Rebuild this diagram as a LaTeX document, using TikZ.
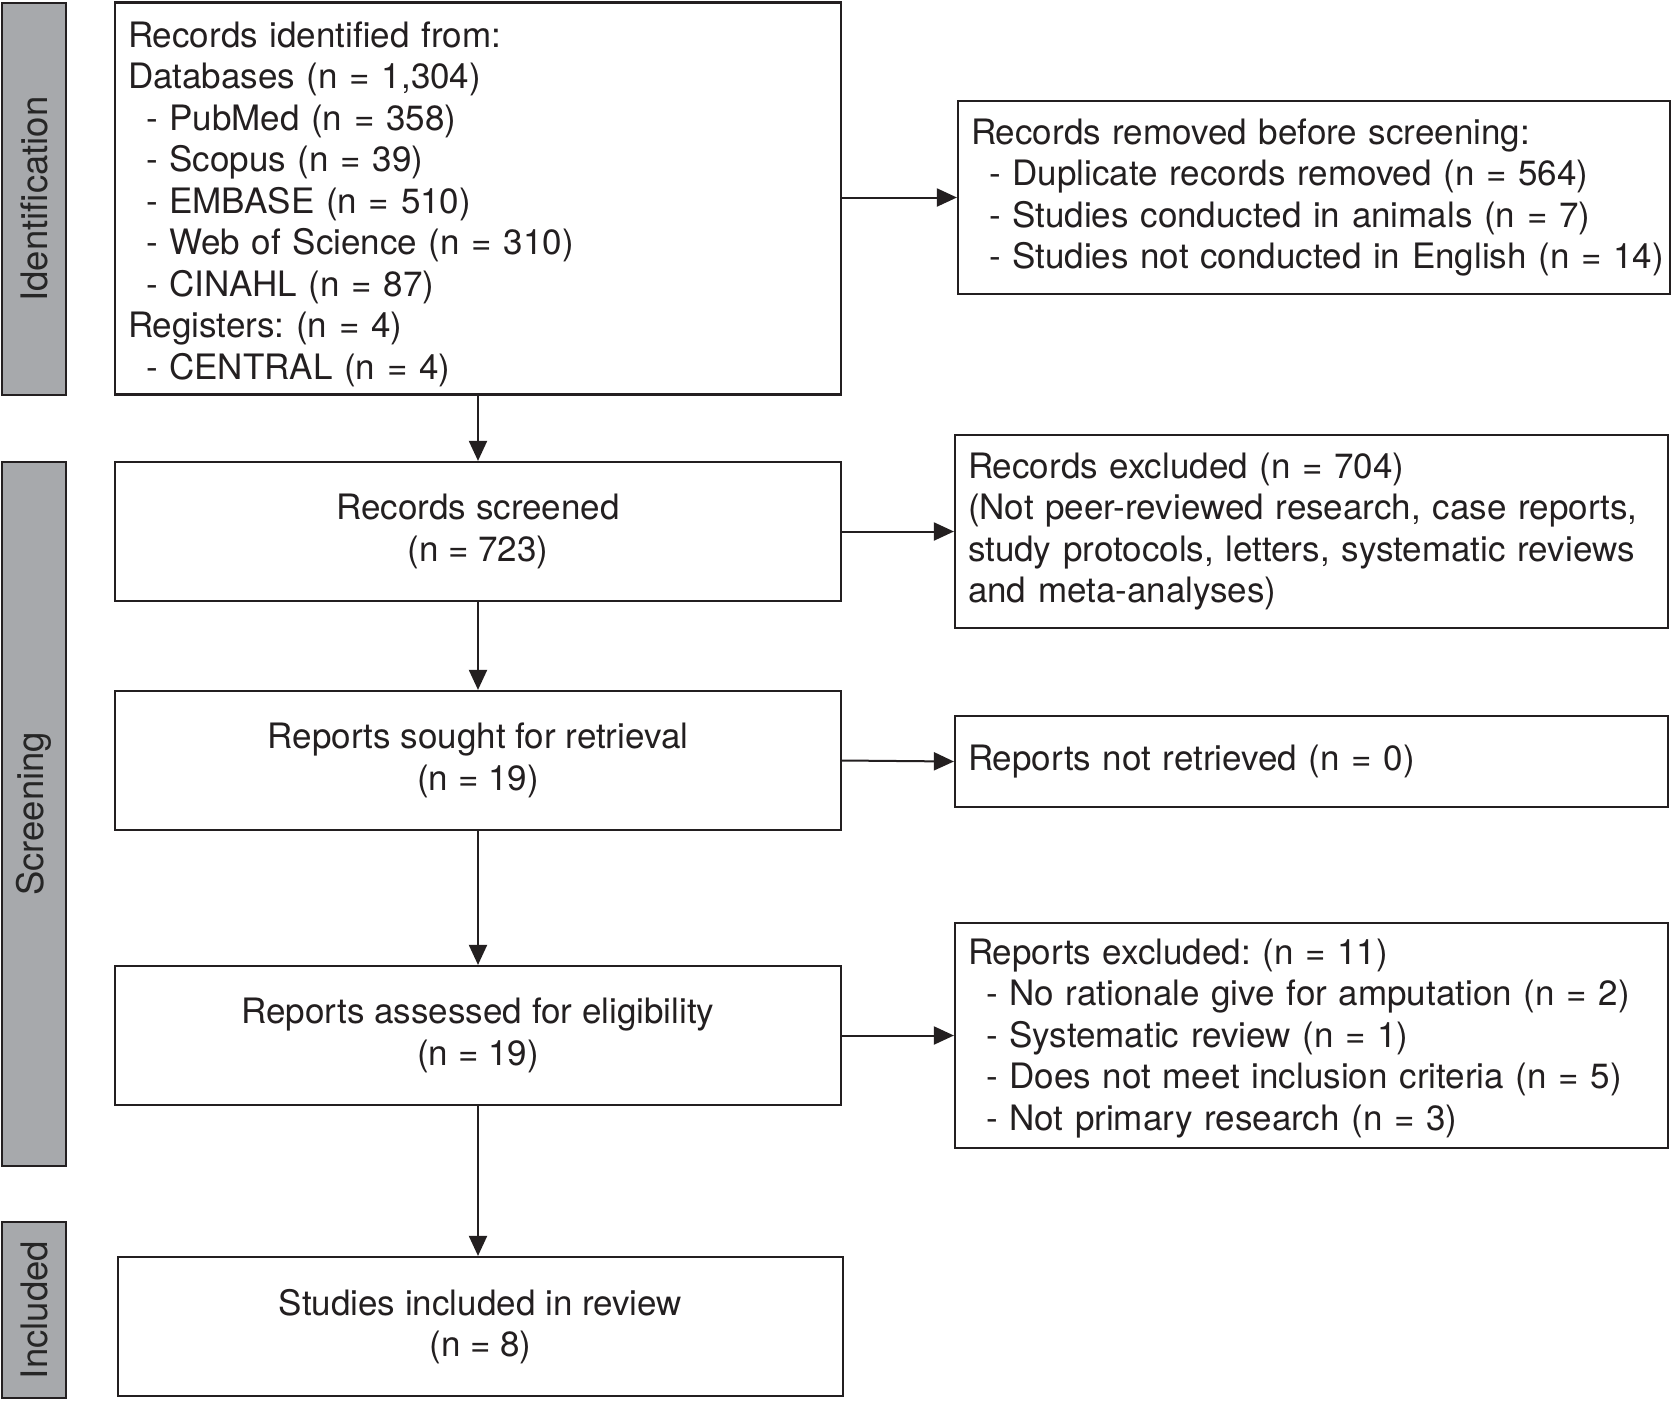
\documentclass[tikz,border=0pt]{standalone}
\usepackage{fontspec}
\setmainfont{TeX Gyre Heros}
\usetikzlibrary{arrows.meta}
\definecolor{ink}{HTML}{231F20}
\definecolor{barfill}{HTML}{A7A9AC}
\frenchspacing
\newcommand\boxfont{\fontsize{35}{41.5}\selectfont}
\begin{document}
\begin{tikzpicture}[x=1pt,y=-1pt,
  every node/.style={font=\boxfont, text=ink},
  box/.style={draw=ink, line width=2.2pt, fill=white, inner xsep=13pt, inner ysep=0pt},
  lbox/.style={box, align=left, text width=#1},
  cbox/.style={box, align=center},
  sidebar/.style={draw=ink, line width=2.2pt, fill=barfill, inner sep=0pt, minimum width=64pt},
  sidetext/.style={rotate=90, text=black!85, font=\fontsize{36.5}{40}\selectfont},
  conn/.style={draw=ink, line width=2pt, -{Triangle[length=20pt,width=18pt]}}
]
\useasboundingbox (0,0) rectangle (1673,1401);
\fill[white] (0,0) rectangle (1673,1401);

% side bars
\node[sidebar, minimum height=392pt] (sid) at (34,199) {};
\node[sidetext] at (sid.center) {Identification};
\node[sidebar, minimum height=704pt] (ssc) at (34,814) {};
\node[sidetext] at (ssc.center) {Screening};
\node[sidebar, minimum height=176pt] (sin) at (34,1310) {};
\node[sidetext] at (sin.center) {Included};

% left column
\node[lbox=700pt, minimum width=726pt, minimum height=392pt] (b1) at (478,198.5) {\rule{0pt}{37pt}Records identified from:\\
Databases (n = 1,304)\\
\hspace*{18pt}- PubMed (n = 358)\\
\hspace*{18pt}- Scopus (n = 39)\\
\hspace*{18pt}- EMBASE (n = 510)\\
\hspace*{18pt}- Web of Science (n = 310)\\
\hspace*{18pt}- CINAHL (n = 87)\\
Registers: (n = 4)\\
\hspace*{18pt}- CENTRAL (n = 4)};

\node[cbox, minimum width=726pt, minimum height=139pt] (b2) at (478,531.5) {Records screened\\(n = 723)};
\node[cbox, minimum width=726pt, minimum height=139pt] (b3) at (478,760.5) {Reports sought for retrieval\\(n = 19)};
\node[cbox, minimum width=726pt, minimum height=139pt] (b4) at (478,1035.5) {Reports assessed for eligibility\\(n = 19)};
\node[cbox, minimum width=725pt, minimum height=139pt] (b5) at (480.5,1326.5) {Studies included in review\\(n = 8)};

% right column
\node[lbox=686pt, minimum width=712pt, minimum height=193pt] (r1) at (1314,197.5) {Records removed before screening:\\
\mbox{\hspace*{18pt}- Duplicate records removed (n = 564)}\\
\mbox{\hspace*{18pt}- Studies conducted in animals (n = 7)}\\
\mbox{\hspace*{18pt}- Studies not conducted in English (n = 14)}};

\node[lbox=687pt, minimum width=713pt, minimum height=193pt] (r2) at (1311.5,531.5) {Records excluded (n = 704)\\
(Not peer-reviewed research, case reports,\\
study protocols, letters, systematic reviews\\
and meta-analyses)};

\node[lbox=687pt, minimum width=713pt, minimum height=91pt] (r3) at (1311.5,761.5) {Reports not retrieved (n = 0)};

\node[lbox=687pt, minimum width=713pt, minimum height=225pt] (r4) at (1311.5,1035.5) {\rule{0pt}{31pt}Reports excluded: (n = 11)\\
\hspace*{18pt}- No rationale give for amputation (n = 2)\\
\hspace*{18pt}- Systematic review (n = 1)\\
\hspace*{18pt}- Does not meet inclusion criteria (n = 5)\\
\hspace*{18pt}- Not primary research (n = 3)};

% connectors
\draw[conn] (b1.south) -- (b2.north);
\draw[conn] (b2.south) -- (b3.north);
\draw[conn] (b3.south) -- (b4.north);
\draw[conn] (b4.south) -- (b4.south |- b5.north);
\draw[conn] (b1.east |- r1.west) -- (r1.west);
\draw[conn] (b2.east) -- (r2.west);
\draw[conn] (b3.east) -- (r3.west);
\draw[conn] (b4.east) -- (r4.west);
\end{tikzpicture}
\end{document}
